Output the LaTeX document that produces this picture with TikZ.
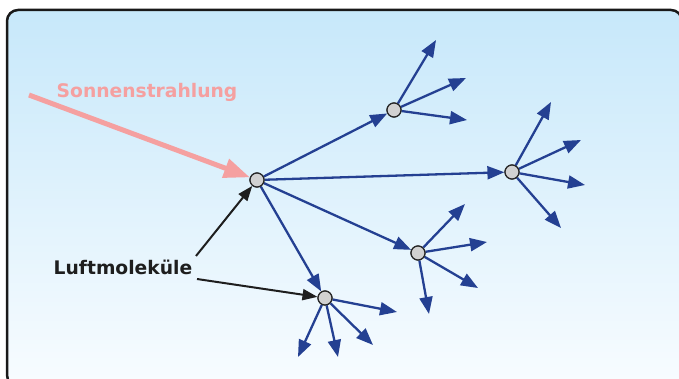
\documentclass[tikz,border=0pt]{standalone}
\usepackage{fontspec}
\setmainfont{DejaVu Sans}
\usetikzlibrary{arrows.meta}
\definecolor{ray}{RGB}{36,64,146}
\definecolor{pinkray}{RGB}{245,160,160}
\definecolor{skytop}{RGB}{199,232,250}
\definecolor{skybot}{RGB}{248,252,255}
\definecolor{labelblack}{RGB}{30,30,30}
\tikzset{
  molecule/.style={circle, draw=black!85, line width=1.2pt, fill=black!18, minimum size=14pt, inner sep=0pt},
  scatter/.style={draw=ray, line width=2.3pt, -{Triangle[length=17pt,width=13pt]}},
  pointer/.style={draw=labelblack, line width=2pt, -{Triangle[length=15pt,width=11pt]}},
  sun/.style={draw=pinkray, line width=5pt, -{Triangle[length=26pt,width=19pt]}},
  lbl/.style={font=\bfseries\fontsize{18.7}{20}\selectfont, inner sep=0pt, anchor=base west}
}
\begin{document}
\begin{tikzpicture}[x=1pt,y=1pt]
\useasboundingbox (0,0) rectangle (679,-379);
\clip (0,0) rectangle (679,-379);
\shade[top color=skytop, bottom color=skybot, draw=black!90, line width=2.5pt, rounded corners=11pt]
  (7,-10) rectangle (682,-386);

% molecules
\node[molecule] (A) at (257,-180) {};
\node[molecule] (B) at (394,-110) {};
\node[molecule] (C) at (512,-172) {};
\node[molecule] (D) at (418,-253) {};
\node[molecule] (E) at (325,-298) {};

% free ends
\coordinate (b1) at (436,-40);
\coordinate (b2) at (466,-78);
\coordinate (b3) at (467,-120);
\coordinate (c1) at (551,-102);
\coordinate (c2) at (581,-140);
\coordinate (c3) at (585,-185);
\coordinate (c4) at (561,-228);
\coordinate (d1) at (465,-204);
\coordinate (d2) at (487,-242);
\coordinate (d3) at (478,-288);
\coordinate (d4) at (429,-314);
\coordinate (e1) at (397,-312);
\coordinate (e2) at (373,-345);
\coordinate (e3) at (338,-357);
\coordinate (e4) at (298,-357);
\coordinate (s0) at (29,-95);
\coordinate (p1) at (196,-256);
\coordinate (p2) at (197,-279);

% labels
\node[lbl, text=pinkray] (sl) at (56.5,-97.5) {Sonnenstrahlung};
\node[lbl, text=labelblack] (ll) at (53.5,-274.3) {Luftmoleküle};

% sunlight
\draw[sun] (s0) -- (A);

% scattering
\draw[scatter] (A) -- (B);
\draw[scatter] (A) -- (C);
\draw[scatter] (A) -- (D);
\draw[scatter] (A) -- (E);
\foreach \t in {b1,b2,b3} \draw[scatter] (B) -- (\t);
\foreach \t in {c1,c2,c3,c4} \draw[scatter] (C) -- (\t);
\foreach \t in {d1,d2,d3,d4} \draw[scatter] (D) -- (\t);
\foreach \t in {e1,e2,e3,e4} \draw[scatter] (E) -- (\t);

% pointers
\draw[pointer] (p1) -- (A);
\draw[pointer] (p2) -- (E);

% redraw molecules on top
\foreach \n in {A,B,C,D,E} \node[molecule] at (\n) {};
\end{tikzpicture}
\end{document}
